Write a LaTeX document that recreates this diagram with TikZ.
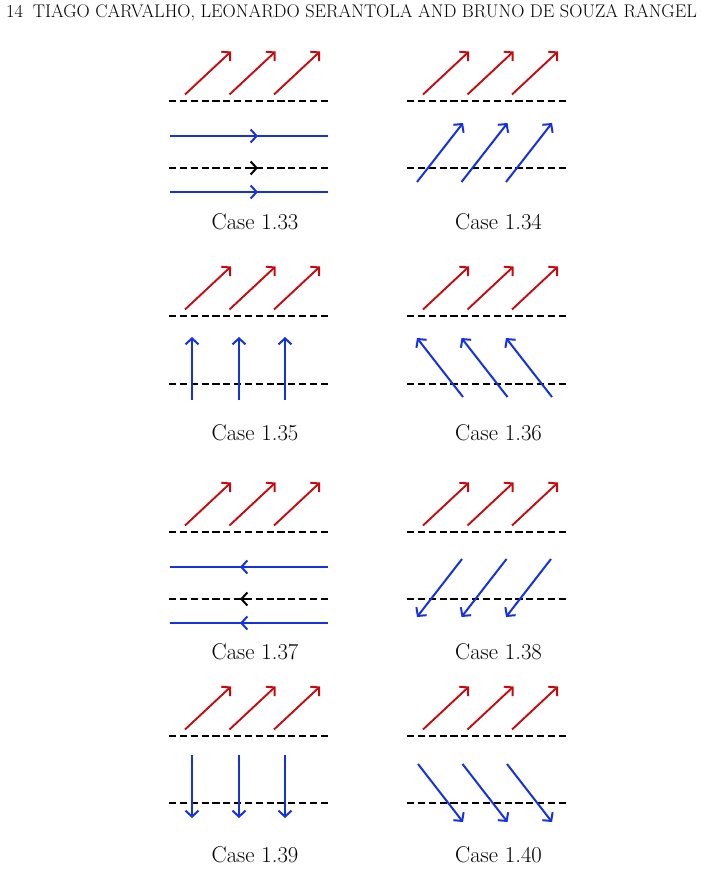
\documentclass[tikz,border=0pt]{standalone}
\usetikzlibrary{arrows.meta}
\definecolor{myred}{RGB}{200,10,15}
\definecolor{myblue}{RGB}{20,50,225}
\tikzset{
  redarr/.style={draw=myred,line width=1.9pt,-{Straight Barb[length=6pt,width=13pt]}},
  bluearr/.style={draw=myblue,line width=2pt,-{Straight Barb[length=6pt,width=13pt]}},
  blueline/.style={draw=myblue,line width=2pt},
  dashline/.style={draw=black,line width=2.2pt,dash pattern=on 7.2pt off 3.64pt},
  midtip/.style={line width=2pt,-{Straight Barb[length=6pt,width=13pt]}},
  caption/.style={font=\fontsize{22.7}{27}\selectfont,inner sep=0pt},
  headfont/.style={font=\fontsize{18.3}{22}\selectfont,inner sep=0pt}
}
\begin{document}
\begin{tikzpicture}[x=1pt,y=-1pt]
\useasboundingbox (0,0) rectangle (702,869);
% header
\node[headfont,anchor=base west] (pg) at (6,18) {14};
\node[headfont,anchor=base east] (hd) at (697,18) {TIAGO CARVALHO, LEONARDO SERANTOLA AND BRUNO DE SOUZA RANGEL};
% common top part: dashed line and red arrows
\foreach \cx in {0,238}{
  \foreach \d in {101,316,532,736}{
    \begin{scope}[shift={(\cx,\d)}]
      \draw[dashline] (169,0) -- (328,0);
      \foreach \i in {0,1,2}{
        \draw[redarr] (185+44.5*\i,-6.5) -- (231+44.5*\i,-49.5);
      }
    \end{scope}
  }
}
% Case 1.33
\begin{scope}[shift={(0,101)}]
  \draw[blueline] (170,35) -- (328,35);
  \draw[midtip,draw=myblue] (248,35) -- (258,35);
  \draw[dashline] (169,67) -- (328,67);
  \draw[midtip,draw=black] (248,67) -- (258,67);
  \draw[blueline] (170,91) -- (328,91);
  \draw[midtip,draw=myblue] (248,91) -- (258,91);
\end{scope}
\node[caption] (c33) at (255,222) {Case 1.33};
% Case 1.34
\begin{scope}[shift={(238,101)}]
  \draw[dashline] (169,67) -- (328,67);
  \foreach \i in {0,1,2}{
    \draw[bluearr] (179+44.5*\i,81) -- (225+44.5*\i,22);
  }
\end{scope}
\node[caption] (c34) at (498.5,222) {Case 1.34};
% Case 1.35
\begin{scope}[shift={(0,316)}]
  \draw[dashline] (169,68) -- (328,68);
  \foreach \x in {192,239,285}{
    \draw[bluearr] (\x,84) -- (\x,21);
  }
\end{scope}
\node[caption] (c35) at (255,433) {Case 1.35};
% Case 1.36
\begin{scope}[shift={(238,316)}]
  \draw[dashline] (169,68) -- (328,68);
  \foreach \i in {0,1,2}{
    \draw[bluearr] (225+44.5*\i,81) -- (179+44.5*\i,22);
  }
\end{scope}
\node[caption] (c36) at (498.5,433) {Case 1.36};
% Case 1.37
\begin{scope}[shift={(0,532)}]
  \draw[blueline] (170,35) -- (328,35);
  \draw[midtip,draw=myblue] (250,35) -- (240,35);
  \draw[dashline] (169,67) -- (328,67);
  \draw[midtip,draw=black] (250,67) -- (240,67);
  \draw[blueline] (170,91) -- (328,91);
  \draw[midtip,draw=myblue] (250,91) -- (240,91);
\end{scope}
\node[caption] (c37) at (255,652) {Case 1.37};
% Case 1.38
\begin{scope}[shift={(238,532)}]
  \draw[dashline] (169,67) -- (328,67);
  \foreach \i in {0,1,2}{
    \draw[bluearr] (224+44.5*\i,27) -- (179+44.5*\i,85);
  }
\end{scope}
\node[caption] (c38) at (498.5,652) {Case 1.38};
% Case 1.39
\begin{scope}[shift={(0,736)}]
  \draw[dashline] (169,67) -- (328,67);
  \foreach \x in {192,239,285}{
    \draw[bluearr] (\x,19) -- (\x,82);
  }
\end{scope}
\node[caption] (c39) at (255,855) {Case 1.39};
% Case 1.40
\begin{scope}[shift={(238,736)}]
  \draw[dashline] (169,67) -- (328,67);
  \foreach \i in {0,1,2}{
    \draw[bluearr] (180+44.5*\i,28) -- (225+44.5*\i,86);
  }
\end{scope}
\node[caption] (c40) at (498.5,855) {Case 1.40};
\end{tikzpicture}
\end{document}
